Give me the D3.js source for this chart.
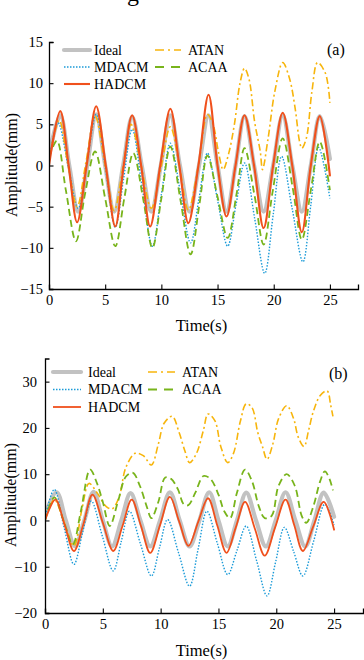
<!DOCTYPE html>
<html><head><meta charset="utf-8">
<script src="https://cdn.jsdelivr.net/npm/d3@7/dist/d3.min.js"></script>
<style>
body{margin:0;background:#fff}
svg{display:block}
text{font-family:"Liberation Serif","Times New Roman",serif;fill:#000}
</style>
</head><body>
<svg id="c" width="364" height="660"></svg>
<script>
// ---- data ----
const seriesNames = ["Ideal","MDACM","HADCM","ATAN","ACAA"];
const xTicks = [0,5,10,15,20,25];
const yTicksA = [-15,-10,-5,0,5,10,15];
const yTicksB = [-20,-10,0,10,20,30];

// Ideal reference trajectory (same in both panels)
const ideal = [[0,1.2],[1.0,6.1],[1.8,0],[2.6,-5.6],[3.4,0],[4.2,6.2],[5.0,0],[5.8,-5.6],[6.6,0],[7.4,5.9],[8.25,0],[9.1,-5.6],[9.95,0],[10.8,6.1],[11.65,0],[12.5,-5.6],[13.35,0],[14.2,6.1],[15.0,0],[15.8,-5.6],[16.6,0],[17.4,6.0],[18.25,0],[19.1,-5.6],[19.95,0],[20.8,6.1],[21.65,0],[22.5,-5.6],[23.3,0],[24.1,6.0],[25.0,0.8]];

// Panel (a)
const mdacmA = [[0,0.5],[0.8,5.2],[1.7,0],[2.6,-5.2],[3.4,0.5],[4.2,6.2],[5.05,-0.6],[5.9,-7.5],[6.65,-1.5],[7.4,4.4],[8.3,-2.7],[9.2,-9.8],[10.0,-3.5],[10.8,2.7],[11.7,-3.3],[12.6,-9.4],[13.35,-4],[14.1,1.5],[15.0,-4.2],[15.9,-9.8],[16.65,-4.7],[17.4,0.3],[18.3,-6.4],[19.2,-13.1],[19.95,-6],[20.7,1.1],[21.65,-5.3],[22.6,-11.7],[23.3,-4.8],[24.0,2.2],[25.0,-4]];
const hadcmA = [[0,0],[1.0,6.6],[1.75,0],[2.5,-6.9],[3.35,0],[4.2,7.2],[5.05,0],[5.9,-7.4],[6.65,0],[7.4,6.1],[8.2,0],[9.0,-7.4],[9.9,0],[10.8,6.9],[11.6,0],[12.4,-7.0],[13.3,0],[14.2,8.6],[15.0,0],[15.8,-6.2],[16.6,0],[17.4,6.1],[18.25,0],[19.1,-7.6],[19.95,0],[20.8,6.4],[21.65,0],[22.5,-8.1],[23.3,0],[24.1,6.0],[25.0,-1.2]];
const atanA = [[0,0.5],[0.9,5.5],[1.7,0],[2.5,-5],[3.3,0.5],[4.1,6],[5.0,0],[5.8,-5.5],[6.6,0],[7.3,5],[8.2,0],[9.1,-5.2],[10.0,0],[10.8,4.7],[11.6,0],[12.4,-5.4],[13.3,0],[14.1,6.2],[14.6,5],[15.1,1.5],[15.5,-0.5],[16.0,1.5],[16.5,5],[17.0,10],[17.4,11.8],[17.8,10.5],[18.3,5.3],[18.8,1.7],[19.0,-0.5],[19.5,3.3],[20.1,9],[20.8,12.5],[21.4,10.6],[21.9,7],[22.3,2.9],[22.5,2.1],[22.9,3.3],[23.4,9],[23.9,12.5],[24.6,11.2],[25.0,7.6]];
const acaaA = [[0,1],[0.7,3],[1.5,-3],[2.4,-9.2],[3.2,-3.5],[4.1,1.7],[5.0,-4],[5.9,-9.8],[6.7,-4],[7.5,1.5],[8.4,-4.2],[9.2,-10],[10.0,-4],[10.8,2.3],[11.7,-4.2],[12.6,-10.8],[13.4,-4.6],[14.1,1.2],[15.0,-3.8],[15.9,-8.8],[16.7,-3.4],[17.4,2.1],[18.3,-3.7],[19.1,-9.6],[19.9,-3.2],[20.8,3.3],[21.7,-2.8],[22.5,-9],[23.3,-3],[24.1,2.9],[25.0,-3]];

// Panel (b)
const mdacmB = [[0,0.5],[0.8,6.7],[1.65,-1.5],[2.5,-9.5],[3.25,-2.6],[4.0,4.2],[4.95,-3.3],[5.9,-10.9],[6.6,-4.5],[7.3,2],[8.25,-5],[9.2,-12],[9.9,-5.9],[10.6,0.2],[11.55,-7],[12.5,-14.2],[13.25,-6.1],[14.0,2],[14.9,-4.9],[15.8,-11.7],[16.6,-6.5],[17.4,-1.2],[18.3,-8.7],[19.2,-16.3],[19.95,-8.9],[20.7,-1.5],[21.5,-6.7],[22.3,-12],[23.25,-4.3],[24.2,3.5],[25.0,-1]];
const hadcmB = [[0,0],[0.9,4.5],[1.7,-1],[2.5,-6.6],[3.3,-1],[4.1,5.6],[5.0,-0.5],[5.9,-6.6],[6.7,-1.2],[7.5,4.5],[8.3,-1.2],[9.1,-7],[9.95,-1],[10.8,5.1],[11.6,-0.2],[12.4,-5.5],[13.25,-0.3],[14.1,4.8],[14.9,-1.1],[15.7,-7],[16.5,-1.5],[17.3,4.0],[18.15,-1.8],[19.0,-7.6],[19.9,-1.5],[20.8,4.5],[21.55,-1],[22.3,-6.6],[23.2,-1.3],[24.1,4.0],[25.0,-2]];
const atanB = [[0,0],[0.8,4.5],[1.6,0],[2.5,-5.5],[3.2,2.5],[3.8,8],[4.5,6],[5.3,3],[5.8,2.5],[6.4,5],[7.0,11.5],[7.8,14.5],[8.5,14],[9.2,12],[9.8,16.5],[10.3,21],[11.0,22.5],[11.6,19],[12.1,15],[12.5,12.5],[13.1,14.5],[13.7,19.5],[14.1,23],[14.7,21.5],[15.2,16],[15.8,12.5],[16.3,14.5],[16.9,21.5],[17.4,25.2],[17.9,24.4],[18.4,19],[18.8,16],[19.2,13.2],[19.7,16.5],[20.2,22],[20.9,24.8],[21.5,22],[21.9,18],[22.4,16],[22.8,19.5],[23.2,23.5],[23.8,27],[24.4,28],[24.7,25],[24.9,22.5]];
const acaaB = [[0,0],[0.8,5],[1.6,0],[2.4,-5.2],[3.1,2],[3.9,11],[4.5,8],[5.0,4],[5.6,-1.2],[6.3,4],[7.0,9.5],[7.6,10.3],[8.2,7.5],[8.8,3],[9.2,0.5],[9.8,4],[10.4,9.3],[10.9,9],[11.5,6.7],[12.0,3.5],[12.4,3.3],[13.0,6],[13.7,9.6],[14.3,9],[15.0,5.6],[15.5,2],[16.0,0.5],[16.6,6],[17.3,11],[17.9,8.5],[18.5,3],[19.0,0.5],[19.6,1],[20.2,7.5],[20.9,10],[21.6,7.5],[22.2,1],[22.6,-0.5],[23.2,3],[23.8,8.5],[24.2,10.6],[24.6,9],[24.9,6.5]];

// ---- styles ----
const styles = {
  Ideal: {color:"#c2c2c2", width:4.2, dash:null, cap:"round"},
  MDACM: {color:"#1b9bd8", width:1.4, dash:"1.5,1.6", cap:"butt"},
  HADCM: {color:"#f0501c", width:2, dash:null, cap:"round"},
  ATAN:  {color:"#f7b50c", width:1.6, dash:"7,3,2,3", cap:"butt"},
  ACAA:  {color:"#78b41b", width:1.8, dash:"7,4", cap:"butt"}
};
const drawOrder = ["Ideal","MDACM","ATAN","ACAA","HADCM"];

const svg = d3.select("#c");

// partial caption glyph at top (cut off in the reference as well)
svg.append("text").attr("x",127).attr("y",1).attr("font-size",24).text("g");

function panel(cfg){
  const x = d3.scaleLinear().domain([0,27.5]).range([cfg.x0, cfg.x1]);
  const y = d3.scaleLinear().domain(cfg.yDomain).range([cfg.yBottom, cfg.yTop]);
  const g = svg.append("g");
  const clipId = "clip"+cfg.label;
  svg.append("clipPath").attr("id",clipId).append("rect")
    .attr("x",cfg.x0).attr("y",cfg.yTop).attr("width",cfg.x1-cfg.x0).attr("height",cfg.yBottom-cfg.yTop);

  const line = d3.line().x(d=>x(d[0])).y(d=>y(d[1])).curve(d3.curveCatmullRom.alpha(0.5));
  const lines = g.append("g").attr("clip-path",`url(#${clipId})`);
  drawOrder.forEach(name=>{
    const s = styles[name];
    lines.append("path").datum(cfg.data[name])
      .attr("d",line).attr("fill","none")
      .attr("stroke",s.color).attr("stroke-width", name==="HADCM"?cfg.hw:s.width)
      .attr("stroke-dasharray",s.dash).attr("stroke-linecap",s.cap).attr("stroke-linejoin","round");
  });

  // axes
  const xMinor = d3.range(2.5,28,5);
  const yMinor = cfg.yMinor;
  const ax = g.append("g").attr("transform",`translate(0,${cfg.yBottom})`);
  ax.call(d3.axisBottom(x).tickValues(xMinor).tickSize(-3).tickFormat(""));
  ax.call(d3.axisBottom(x).tickValues(xTicks).tickSize(-4.5).tickPadding(5).tickFormat(d3.format("d")));
  const ay = g.append("g").attr("transform",`translate(${cfg.x0},0)`);
  ay.call(d3.axisLeft(y).tickValues(yMinor).tickSize(-3).tickFormat(""));
  ay.call(d3.axisLeft(y).tickValues(cfg.yTicks).tickSize(-4.5).tickPadding(cfg.pad).tickFormat(d3.format("d")));
  [ax,ay].forEach(a=>{
    a.selectAll("path.domain").attr("stroke","#000").attr("stroke-width",1.3);
    a.selectAll("line").attr("stroke","#000").attr("stroke-width",1.1);
    a.selectAll("text").attr("font-size",14.5).attr("font-family","Liberation Serif").attr("fill","#000");
  });
  ax.selectAll("text").attr("dy","0.78em");

  // axis titles
  svg.append("text").attr("x",(cfg.x0+ x(25))/2 + 12).attr("y",cfg.xTitleY)
    .attr("text-anchor","middle").attr("font-size",16.5).text("Time(s)");
  svg.append("text").attr("transform",`translate(${cfg.yTitleX},${cfg.yTitleCY}) rotate(-90)`)
    .attr("text-anchor","middle").attr("font-size",16).text("Amplitude(mm)");

  // panel tag
  svg.append("text").attr("x",cfg.tagX).attr("y",cfg.tagY).attr("font-size",16).text(`(${cfg.label})`);

  // legend
  const L = cfg.legend;
  const entries = [
    {name:"Ideal", col:0,row:0},{name:"MDACM",col:0,row:1},{name:"HADCM",col:0,row:2},
    {name:"ATAN", col:1,row:0},{name:"ACAA",col:1,row:1}
  ];
  entries.forEach(e=>{
    const s = styles[e.name];
    const lx0 = e.col===0?L.c0x0:L.c1x0, lx1 = e.col===0?L.c0x1:L.c1x1, tx = e.col===0?L.c0t:L.c1t;
    const ly = L.y0 + e.row*L.dy;
    svg.append("line").attr("x1",lx0).attr("x2",lx1).attr("y1",ly).attr("y2",ly)
      .attr("stroke",s.color).attr("stroke-width", e.name==="HADCM"?cfg.hw:s.width)
      .attr("stroke-dasharray", e.name==="ATAN"?"9,4,2,4":(e.name==="ACAA"?"9,7":(e.name==="MDACM"?"1.5,1.5":null)))
      .attr("stroke-linecap", e.name==="Ideal"?"round":"butt");
    svg.append("text").attr("x",tx).attr("y",ly).attr("dy","0.35em").attr("font-size",14).text(e.name);
  });
}

panel({
  label:"a", x0:49, x1:358, yTop:42, yBottom:289, yDomain:[-15,15],
  yTicks:yTicksA, yMinor:d3.range(-12.5,15,5), pad:6, hw:2.1,
  xTitleY:331, yTitleX:17, yTitleCY:165, tagX:327, tagY:55,
  data:{Ideal:ideal, MDACM:mdacmA, HADCM:hadcmA, ATAN:atanA, ACAA:acaaA},
  legend:{c0x0:64,c0x1:90,c0t:94,c1x0:155,c1x1:181,c1t:188,y0:50,dy:17}
});
panel({
  label:"b", x0:45, x1:363, yTop:358.5, yBottom:613, yDomain:[-20,35],
  yTicks:yTicksB, yMinor:[-15,-5,5,15,25,35], pad:8, hw:1.8,
  xTitleY:656, yTitleX:16, yTitleCY:495, tagX:329, tagY:379,
  data:{Ideal:ideal, MDACM:mdacmB, HADCM:hadcmB, ATAN:atanB, ACAA:acaaB},
  legend:{c0x0:53,c0x1:81,c0t:88,c1x0:148,c1x1:175,c1t:182,y0:372,dy:17.5}
});
</script>
</body></html>
